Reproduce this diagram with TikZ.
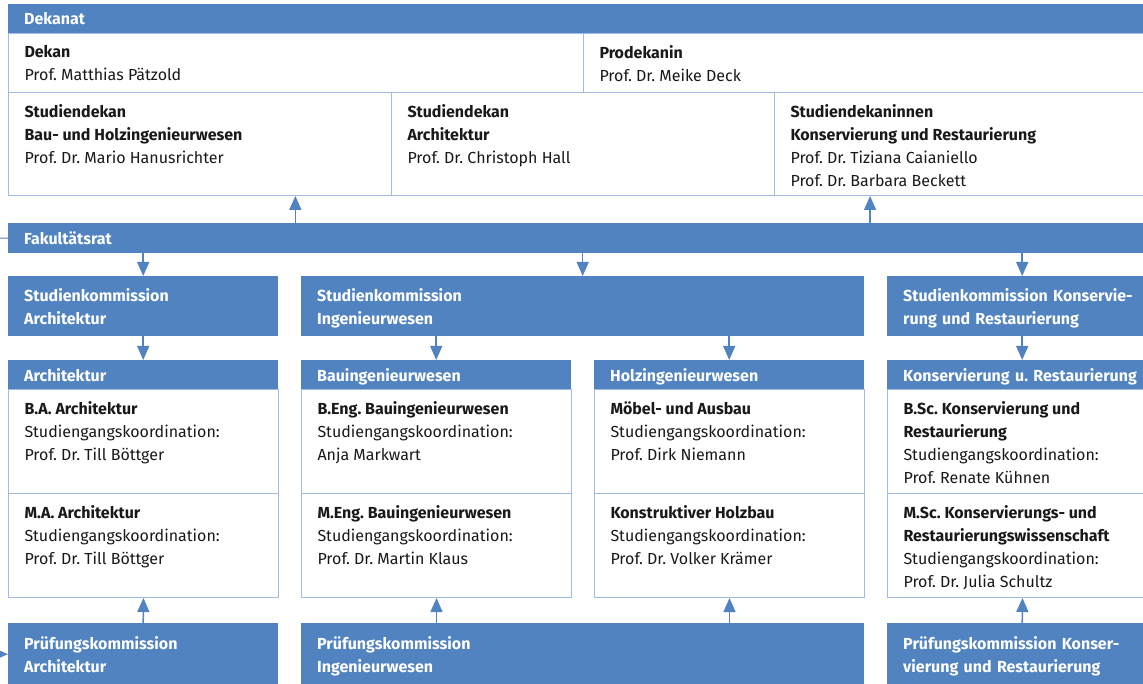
\documentclass[tikz,border=0pt]{standalone}
\usepackage{fontspec}
\setmainfont{Fira Sans}
\usetikzlibrary{arrows.meta,positioning,calc}
\definecolor{bc}{RGB}{80,131,192}
\definecolor{lc}{RGB}{160,188,226}
\definecolor{tc}{RGB}{25,25,25}
\newcommand{\fs}{\fontsize{16}{23}\selectfont\frenchspacing}
\newcommand{\ct}[3]{\parbox[t][#1][t]{#2}{#3}}
\tikzset{bar/.style={fill=bc,text=white,font=\fs\bfseries,anchor=north west,align=left,inner xsep=16pt,inner ysep=0pt,text depth=0pt},
 bar2/.style={bar,text depth=23pt},
 cell/.style={draw=lc,line width=1pt,fill=white,text=tc,font=\fs,anchor=north west,inner xsep=16pt,inner ysep=12pt},
 arr/.style={-{Triangle[length=14pt,width=12pt]},draw=bc,fill=bc,line width=1.5pt}}

\begin{document}
\begin{tikzpicture}[x=1pt,y=-1pt]
\useasboundingbox (0,0) rectangle (1143,684);
\clip (0,0) rectangle (1143,684);
% Dekanat
\node[bar,minimum width=1149pt,minimum height=29pt,text width=1117pt] (dek) at (8,4) {Dekanat};
\node[cell] (dekan) at (8,33) {\ct{35pt}{543pt}{\textbf{Dekan}\\Prof. Matthias Pätzold}};
\node[cell] (prodek) at (583,33) {\ct{35pt}{542pt}{\textbf{Prodekanin}\\Prof. Dr. Meike Deck}};
\node[cell] (sd1) at (8,92) {\ct{79pt}{351pt}{\textbf{Studiendekan}\\\textbf{Bau- und Holzingenieurwesen}\\Prof. Dr. Mario Hanusrichter}};
\node[cell] (sd2) at (391,92) {\ct{79pt}{351pt}{\textbf{Studiendekan}\\\textbf{Architektur}\\Prof. Dr. Christoph Hall}};
\node[cell] (sd3) at (774,92) {\ct{79pt}{351pt}{\textbf{Studiendekaninnen}\\\textbf{Konservierung und Restaurierung}\\Prof. Dr. Tiziana Caianiello\\Prof. Dr. Barbara Beckett}};
% Fakultaetsrat
\node[bar,minimum width=1149pt,minimum height=30pt,text width=1117pt] (fak) at (8,223) {Fakultätsrat};
\coordinate (fin) at (-10,238);
\draw[draw=bc,line width=1pt] (fin) -- (fak.west);
\coordinate (u1) at ($(fak.north west)!.25!(fak.north east)$);
\coordinate (u2) at ($(fak.north west)!.75!(fak.north east)$);
\draw[arr] (u1) -- (u1 |- sd1.south);
\draw[arr] (u2) -- (u2 |- sd3.south);
% Studienkommissionen
\node[bar2,minimum width=270pt,minimum height=60pt,text width=238pt] (ska) at (8,276) {Studienkommission\\Architektur};
\node[bar2,minimum width=563pt,minimum height=60pt,text width=531pt] (ski) at (301,276) {Studienkommission\\Ingenieurwesen};
\node[bar2,minimum width=270pt,minimum height=60pt,text width=238pt] (skk) at (887,276) {Studienkommission Konservie-\\rung und Restaurierung};
\draw[arr] (fak.south -| ska.north) -- (ska.north);
\draw[arr] (fak.south -| ski.north) -- (ski.north);
\draw[arr] (fak.south -| skk.north) -- (skk.north);
% Studiengaenge
\node[bar,minimum width=270pt,minimum height=29pt,text width=238pt] (pa) at (8,360) {Architektur};
\node[bar,minimum width=270pt,minimum height=29pt,text width=238pt] (pb) at (301,360) {Bauingenieurwesen};
\node[bar,minimum width=270pt,minimum height=29pt,text width=238pt] (ph) at (594,360) {Holzingenieurwesen};
\node[bar,minimum width=270pt,minimum height=29pt,text width=238pt] (pk) at (887,360) {Konservierung u. Restaurierung};
\draw[arr] (ska.south -| pa.north) -- (pa.north);
\draw[arr] (ski.south -| pb.north) -- (pb.north);
\draw[arr] (ski.south -| ph.north) -- (ph.north);
\draw[arr] (skk.south -| pk.north) -- (pk.north);
\node[cell] (a1) at (8,389) {\ct{80pt}{238pt}{\textbf{B.A. Architektur}\\Studiengangskoordination:\\Prof. Dr. Till Böttger}};
\node[cell] (a2) at (8,493) {\ct{80pt}{238pt}{\textbf{M.A. Architektur}\\Studiengangskoordination:\\Prof. Dr. Till Böttger}};
\node[cell] (b1) at (301,389) {\ct{80pt}{238pt}{\textbf{B.Eng. Bauingenieurwesen}\\Studiengangskoordination:\\Anja Markwart}};
\node[cell] (b2) at (301,493) {\ct{80pt}{238pt}{\textbf{M.Eng. Bauingenieurwesen}\\Studiengangskoordination:\\Prof. Dr. Martin Klaus}};
\node[cell] (h1) at (594,389) {\ct{80pt}{238pt}{\textbf{Möbel- und Ausbau}\\Studiengangskoordination:\\Prof. Dirk Niemann}};
\node[cell] (h2) at (594,493) {\ct{80pt}{238pt}{\textbf{Konstruktiver Holzbau}\\Studiengangskoordination:\\Prof. Dr. Volker Krämer}};
\node[cell] (k1) at (887,389) {\ct{80pt}{238pt}{\textbf{B.Sc. Konservierung und}\\\textbf{Restaurierung}\\Studiengangskoordination:\\Prof. Renate Kühnen}};
\node[cell] (k2) at (887,493) {\ct{80pt}{238pt}{\textbf{M.Sc. Konservierungs- und}\\\textbf{Restaurierungswissenschaft}\\Studiengangskoordination:\\Prof. Dr. Julia Schultz}};
% Pruefungskommissionen
\node[bar2,minimum width=270pt,minimum height=62pt,text width=238pt] (pka) at (8,623) {Prüfungskommission\\Architektur};
\node[bar2,minimum width=563pt,minimum height=62pt,text width=531pt] (pki) at (301,623) {Prüfungskommission\\Ingenieurwesen};
\node[bar2,minimum width=270pt,minimum height=62pt,text width=238pt] (pkk) at (887,623) {Prüfungskommission Konser-\\vierung und Restaurierung};
\draw[arr] (pka.north) -- (a2.south);
\draw[arr] (pki.north -| b2.south) -- (b2.south);
\draw[arr] (pki.north -| h2.south) -- (h2.south);
\draw[arr] (pkk.north) -- (k2.south);
\coordinate (pin) at (-20,654);
\draw[arr] (pin) -- (pka.west);
\end{tikzpicture}
\end{document}
